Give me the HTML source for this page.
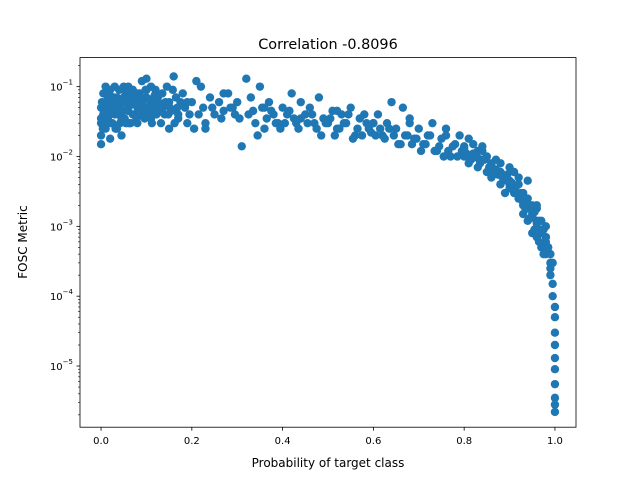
<!DOCTYPE html>
<html><head><meta charset="utf-8"><style>
body{margin:0;background:#fff;font-family:"Liberation Sans","DejaVu Sans",sans-serif}
text{font-family:"DejaVu Sans","Liberation Sans",sans-serif;font-size:10px;fill:#000}
</style></head><body>
<svg id="chart" width="640" height="480" xmlns="http://www.w3.org/2000/svg">
<rect width="640" height="480" fill="#fff"/>
<text x="328" y="49" text-anchor="middle" style="font-size:14.4px">Correlation -0.8096</text>
<g id="pts"></g>
<rect x="80" y="57.6" width="496" height="369.6" fill="none" stroke="#000" stroke-width="0.8"/>
<g id="axes"></g>
<text x="328" y="467" text-anchor="middle" style="font-size:12px">Probability of target class</text>
<text transform="translate(27,242) rotate(-90)" text-anchor="middle" style="font-size:12px">FOSC Metric</text>
</svg>
<script>
const xTicks=[0,0.2,0.4,0.6,0.8,1.0];
const xTickLabels=["0.0","0.2","0.4","0.6","0.8","1.0"];
const yTicks=[-1,-2,-3,-4,-5];
const yTickLabels=["10","10","10","10","10"];
const yTickExps=["−1","−2","−3","−4","−5"];
const probs=[0,0,0,0,0.005,0.005,0.01,0.01,0.01,0.015,0.015,0.02,0.02,0.02,0.025,0.025,0.03,0.03,0.035,0.035,0.04,0.04,0.045,0.05,0.05,0.055,0.055,0.06,0.06,0.065,0.07,0.07,0.075,0.08,0.08,0.085,0.09,0.09,0.095,0.1,0.1,0.105,0.11,0.11,0.115,0.12,0.12,0.125,0.13,0.135,0.14,0.145,0.15,0.155,0.16,0.165,0.17,0.18,0.185,0.19,0.2,0.21,0.215,0.22,0.225,0.23,0.24,0.25,0.26,0.27,0.28,0.29,0.3,0.31,0.32,0.325,0.33,0.34,0.35,0.355,0.36,0.37,0.38,0.39,0.4,0.41,0.42,0.43,0.44,0.45,0.46,0.47,0.48,0.49,0.5,0.51,0.52,0.53,0.54,0.55,0.56,0.57,0.58,0.59,0.6,0.61,0.62,0.63,0.64,0.65,0.66,0.665,0.67,0.68,0.69,0.7,0.71,0.72,0.73,0.74,0.75,0.76,0.77,0.78,0.79,0.8,0.8,0.81,0.81,0.82,0.82,0.83,0.83,0.84,0.84,0.85,0.85,0.86,0.86,0.87,0.87,0.88,0.88,0.89,0.89,0.9,0.9,0.9,0.91,0.91,0.92,0.92,0.92,0.93,0.93,0.93,0.94,0.94,0.94,0.95,0.95,0.95,0.96,0.96,0.96,0.97,0.97,0.97,0.98,0.98,0.98,0.985,0.99,0.99,0.99,0.995,0.995,0.995,1.0,1.0,1.0,1.0,1.0,1.0,1.0,1.0,1.0,1.0,0.02,0.04,0.06,0.08,0.1,0.12,0.03,0.05,0.07,0.09,0.01,0.02,0.045,0.065,0.085,0.11,0.13,0.15,0.17,0.19,0.23,0.27,0.36,0.44,0.52,0.6,0.68,0.76,0.84,0.88,0.92,0.96,0.97,0.98,
0,0.002,0.004,0.006,0.008,0.012,0.016,0.018,0.022,0.026,0.028,0.032,0.036,0.038,0.042,0.046,0.048,0.052,0.056,0.058,0.062,0.066,0.068,0.072,0.076,0.078,0.082,0.086,0.088,0.092,0.096,0.098,0.102,0.106,0.108,0.112,0.116,0.118,0.122,0.126,0.128,0.132,0.136,0.142,0.148,0.152,0.158,0.162,0.168,0.175,0.195,0.205,0.245,0.265,0.285,0.295,0.305,0.335,0.345,0.365,0.375,0.385,0.395,0.405,0.415,0.425,0.435,0.455,0.465,0.475,0.485,0.495,0.505,0.515,0.525,0.535,0.545,0.555,0.565,0.575,0.585,0.595,0.605,0.615,0.625,0.635,0.645,0.655,0.675,0.685,0.695,0.705,0.715,0.725,0.735,0.745,0.755,0.765,0.775,0.785,0.795,0.805,0.815,0.825,0.835,0.845,0.855,0.865,0.875,0.885,0.895,0.905,0.915,0.925,0.935,0.945,0.955,0.965,0.975,0.8,0.82,0.84,0.86,0.88,0.9,0.92,0.94,0.96,0.83,0.87,0.91,0.93,0.95,0.97,0.98,0.99,0.985,0.975,0.965,0.955,0.945,0.935,0.925,0.915,0.905,0.895];
const fosc=[0.05,0.03,0.02,0.015,0.08,0.04,0.1,0.06,0.025,0.07,0.035,0.09,0.05,0.018,0.06,0.03,0.1,0.04,0.07,0.025,0.09,0.05,0.035,0.1,0.06,0.08,0.03,0.1,0.045,0.06,0.09,0.04,0.07,0.05,0.03,0.08,0.12,0.06,0.04,0.13,0.07,0.05,0.1,0.035,0.06,0.09,0.045,0.07,0.05,0.08,0.04,0.1,0.06,0.045,0.14,0.07,0.035,0.08,0.05,0.03,0.06,0.12,0.04,0.1,0.05,0.03,0.07,0.04,0.06,0.045,0.08,0.05,0.06,0.014,0.13,0.04,0.07,0.03,0.1,0.05,0.025,0.06,0.04,0.03,0.05,0.04,0.08,0.03,0.06,0.04,0.05,0.03,0.07,0.035,0.03,0.045,0.025,0.04,0.03,0.05,0.02,0.035,0.04,0.025,0.03,0.04,0.02,0.03,0.06,0.025,0.015,0.05,0.02,0.03,0.018,0.025,0.015,0.02,0.03,0.012,0.018,0.025,0.01,0.015,0.02,0.01,0.014,0.008,0.018,0.01,0.015,0.007,0.012,0.009,0.014,0.006,0.01,0.008,0.005,0.009,0.006,0.004,0.008,0.005,0.003,0.007,0.004,0.0035,0.006,0.003,0.005,0.0025,0.004,0.0015,0.003,0.002,0.0045,0.0012,0.0025,0.002,0.0008,0.0015,0.0018,0.0012,0.0007,0.0012,0.0008,0.0005,0.001,0.0006,0.0004,0.0005,0.0004,0.0003,0.0002,0.0003,0.00015,0.0001,0.00007,0.00005,0.00003,0.00002,0.000013,0.000009,0.0000055,0.0000035,0.0000028,0.0000022,0.07,0.06,0.055,0.08,0.09,0.05,0.045,0.07,0.065,0.05,0.03,0.04,0.02,0.03,0.04,0.06,0.05,0.025,0.04,0.06,0.025,0.08,0.05,0.035,0.045,0.03,0.035,0.02,0.012,0.004,0.0025,0.002,0.0009,0.0007,
0.035,0.06,0.025,0.045,0.03,0.05,0.04,0.08,0.03,0.045,0.07,0.025,0.055,0.04,0.03,0.065,0.045,0.035,0.07,0.05,0.03,0.055,0.08,0.04,0.06,0.035,0.05,0.07,0.04,0.06,0.035,0.09,0.05,0.04,0.065,0.03,0.055,0.075,0.04,0.06,0.045,0.03,0.05,0.06,0.04,0.05,0.09,0.03,0.05,0.06,0.04,0.025,0.05,0.035,0.05,0.04,0.035,0.045,0.02,0.035,0.045,0.03,0.025,0.03,0.045,0.035,0.025,0.03,0.04,0.025,0.02,0.03,0.035,0.02,0.025,0.03,0.04,0.018,0.025,0.02,0.03,0.022,0.02,0.025,0.018,0.025,0.02,0.015,0.02,0.015,0.018,0.012,0.015,0.02,0.012,0.014,0.01,0.012,0.014,0.01,0.012,0.011,0.009,0.01,0.008,0.009,0.007,0.006,0.0055,0.005,0.0045,0.004,0.003,0.0025,0.0018,0.0013,0.0009,0.0006,0.0004,0.013,0.011,0.009,0.0075,0.006,0.0045,0.0028,0.0018,0.0011,0.0095,0.0065,0.0035,0.0022,0.0014,0.0008,0.0007,0.00025,0.0005,0.0009,0.0012,0.0016,0.002,0.0025,0.003,0.0038,0.0042,0.0055];
const X0=80,X1=576,Y0=57.6,Y1=427.2;
const xmin=-0.0464,xmax=1.0464,lmin=-5.876,lmax=-0.584;
function sx(v){return X0+(v-xmin)/(xmax-xmin)*(X1-X0);}
function sy(v){return Y1-(Math.log10(v)-lmin)/(lmax-lmin)*(Y1-Y0);}
const NS="http://www.w3.org/2000/svg";
const g=document.getElementById('pts');
for(let i=0;i<probs.length;i++){
 const c=document.createElementNS(NS,'circle');
 c.setAttribute('cx',sx(probs[i]));c.setAttribute('cy',sy(fosc[i]));c.setAttribute('r',4.2);c.setAttribute('fill','#1f77b4');
 
 
 g.appendChild(c);
}
const ax=document.getElementById('axes');
xTicks.forEach((t,i)=>{
 const x=sx(t);
 const l=document.createElementNS(NS,'line');
 l.setAttribute('x1',x);l.setAttribute('x2',x);l.setAttribute('y1',Y1);l.setAttribute('y2',Y1+3.5);l.setAttribute('stroke','#000');l.setAttribute('stroke-width','0.8');
 ax.appendChild(l);
 const tx=document.createElementNS(NS,'text');
 tx.setAttribute('x',x);tx.setAttribute('y',Y1+17);tx.setAttribute('text-anchor','middle');tx.textContent=xTickLabels[i];
 
 
 ax.appendChild(tx);
});
yTicks.forEach((t,i)=>{
 const y=sy(Math.pow(10,t));
 const l=document.createElementNS(NS,'line');
 l.setAttribute('x1',X0-3.5);l.setAttribute('x2',X0);l.setAttribute('y1',y);l.setAttribute('y2',y);l.setAttribute('stroke','#000');l.setAttribute('stroke-width','0.8');
 ax.appendChild(l);
 const tx=document.createElementNS(NS,'text');
 tx.setAttribute('x',X0-7);tx.setAttribute('y',y+4);tx.setAttribute('text-anchor','end');
 tx.innerHTML=yTickLabels[i]+'<tspan dy="-6" style="font-size:7px">'+yTickExps[i]+'</tspan>';
 
 
 ax.appendChild(tx);
 for(let m=2;m<10;m++){
  const v=Math.log10(m)+t;
  if(v>lmax)continue;
  const yy=sy(Math.pow(10,v));
  const ml=document.createElementNS(NS,'line');
  ml.setAttribute('x1',X0-2);ml.setAttribute('x2',X0);ml.setAttribute('y1',yy);ml.setAttribute('y2',yy);ml.setAttribute('stroke','#000');ml.setAttribute('stroke-width','0.6');
  ax.appendChild(ml);
 }
});
for(let m=2;m<10;m++){const v=Math.log10(m)-6;if(v<lmin)continue;const yy=sy(Math.pow(10,v));const ml=document.createElementNS(NS,'line');ml.setAttribute('x1',X0-2);ml.setAttribute('x2',X0);ml.setAttribute('y1',yy);ml.setAttribute('y2',yy);ml.setAttribute('stroke','#000');ml.setAttribute('stroke-width','0.6');ax.appendChild(ml);}
</script>
</body></html>
